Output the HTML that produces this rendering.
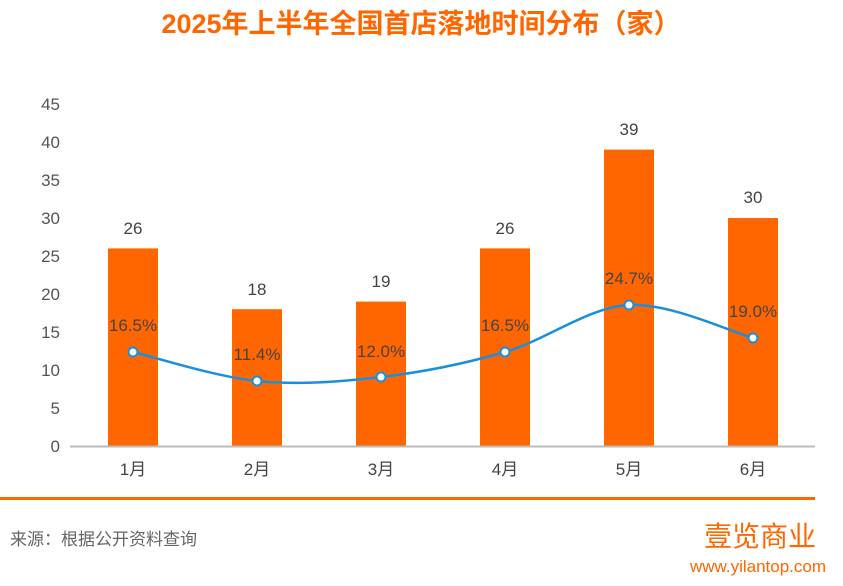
<!DOCTYPE html>
<html><head><meta charset="utf-8"><style>
body{margin:0;width:843px;height:581px;background:#fff;overflow:hidden;font-family:"Liberation Sans","Noto Sans CJK SC",sans-serif;}
</style></head><body>
<svg width="843" height="581" xmlns="http://www.w3.org/2000/svg" font-family="Liberation Sans, Noto Sans CJK SC, sans-serif">
<text x="421" y="33" text-anchor="middle" font-size="27" font-weight="bold" fill="#ff6600">2025年上半年全国首店落地时间分布（家）</text>
<g font-size="17" fill="#555" text-anchor="end">
<text x="60" y="452">0</text><text x="60" y="414">5</text><text x="60" y="376">10</text><text x="60" y="338">15</text><text x="60" y="300">20</text><text x="60" y="262">25</text><text x="60" y="224">30</text><text x="60" y="186">35</text><text x="60" y="148">40</text><text x="60" y="110">45</text>
</g>
<g fill="#ff6600">
<rect x="108" y="248.4" width="50" height="197.6"/>
<rect x="232" y="309.2" width="50" height="136.8"/>
<rect x="356" y="301.6" width="50" height="144.4"/>
<rect x="480" y="248.4" width="50" height="197.6"/>
<rect x="604" y="149.6" width="50" height="296.4"/>
<rect x="728" y="218" width="50" height="228"/>
</g>
<line x1="70" y1="446.5" x2="815" y2="446.5" stroke="#bbb" stroke-width="2"/>
<g font-size="17" fill="#444" text-anchor="middle">
<text x="133" y="234">26</text><text x="257" y="295">18</text><text x="381" y="287">19</text><text x="505" y="234">26</text><text x="629" y="135">39</text><text x="753" y="203">30</text>
<text x="133" y="475">1月</text><text x="257" y="475">2月</text><text x="381" y="475">3月</text><text x="505" y="475">4月</text><text x="629" y="475">5月</text><text x="753" y="475">6月</text>
<text x="133" y="331">16.5%</text><text x="257" y="360">11.4%</text><text x="381" y="357">12.0%</text><text x="505" y="331">16.5%</text><text x="629" y="284">24.7%</text><text x="753" y="317">19.0%</text>
</g>
<path d="M133,352 C153.7,356.8 215.7,376.8 257,381 C298.3,385.2 339.7,381.8 381,377 C422.3,372.2 463.7,364 505,352 C546.3,340 587.7,307.3 629,305 C670.3,302.7 732.3,332.5 753,338" fill="none" stroke="#1a8fdc" stroke-width="2.5"/>
<g fill="#fff" stroke="#1a8fdc" stroke-width="2">
<circle cx="133" cy="352" r="4.5"/><circle cx="257" cy="381" r="4.5"/><circle cx="381" cy="377" r="4.5"/><circle cx="505" cy="352" r="4.5"/><circle cx="629" cy="305" r="4.5"/><circle cx="753" cy="338" r="4.5"/>
</g>
<rect x="0" y="497" width="815" height="3" fill="#ff6600"/>
<text x="10" y="545" font-size="17" fill="#666">来源：根据公开资料查询</text>
<text x="760" y="546" text-anchor="middle" font-size="28" fill="#ff6600">壹览商业</text>
<text x="758" y="572" text-anchor="middle" font-size="17" fill="#ff6600">www.yilantop.com</text>
</svg>
</body></html>
